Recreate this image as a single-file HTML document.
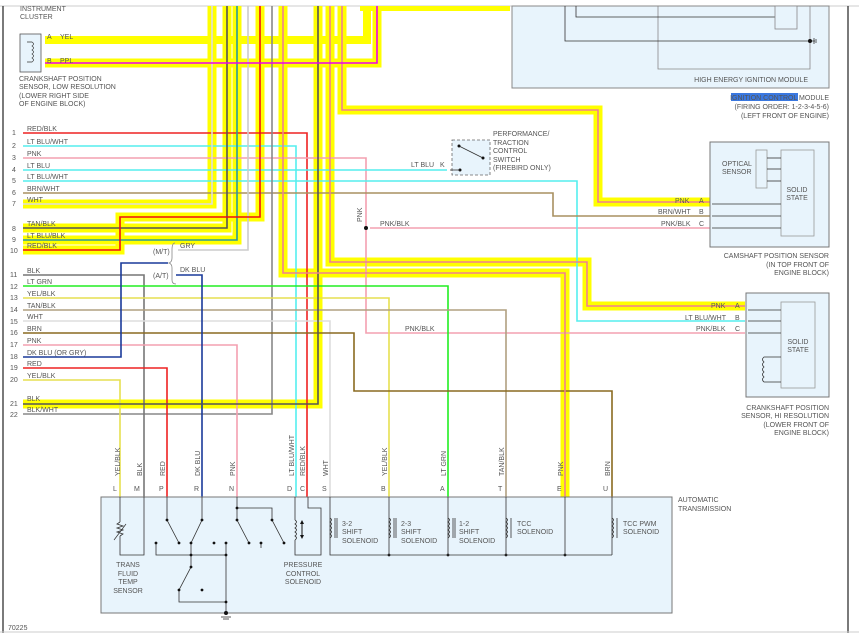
<!DOCTYPE html>
<html><head><meta charset="utf-8"><style>
html,body{margin:0;padding:0;background:#fff;}
svg{display:block;}
text{font-family:"Liberation Sans",sans-serif;font-size:7px;fill:#555;}
.hl{fill:none;stroke:#ffff00;stroke-width:9;stroke-linejoin:miter;}
.w{fill:none;stroke-width:1.6;stroke-linejoin:miter;}
.k{fill:none;stroke:#333;stroke-width:0.8;}
.g{fill:none;stroke:#888;stroke-width:0.8;}
</style></head><body>
<svg width="859" height="633" viewBox="0 0 859 633" xmlns="http://www.w3.org/2000/svg">
<rect width="859" height="633" fill="#fff"/>
<line x1="0" y1="6" x2="859" y2="6" stroke="#ccc" stroke-width="1"/>
<line x1="3" y1="6" x2="3" y2="633" stroke="#222" stroke-width="1.2"/>
<line x1="848" y1="6" x2="848" y2="633" stroke="#222" stroke-width="1.2"/>
<line x1="0" y1="632" x2="859" y2="632" stroke="#ccc" stroke-width="1"/>

<!-- HEI module -->
<rect x="512" y="6" width="317" height="82" fill="#e8f4fc" stroke="#888"/>
<polyline class="g" points="658,6 658,69 810,69 810,6"/>
<polyline class="k" points="565,6 565,41 815,41"/>
<polyline class="k" points="576,6 576,17 775,17"/>
<rect x="775" y="6" width="22" height="23" fill="#e8f4fc" stroke="#888" stroke-width="0.8"/>
<circle cx="810" cy="41" r="2" fill="#111"/>
<line x1="814" y1="38" x2="814" y2="44" stroke="#333" stroke-width="0.8"/>
<line x1="816" y1="39" x2="816" y2="43" stroke="#333" stroke-width="0.8"/>
<text x="808" y="82" text-anchor="end">HIGH ENERGY IGNITION MODULE</text>
<rect x="731" y="93" width="67" height="8" fill="#3a78e0"/>
<text x="829" y="100" text-anchor="end">IGNITION CONTROL MODULE</text>
<text x="829" y="109" text-anchor="end">(FIRING ORDER: 1-2-3-4-5-6)</text>
<text x="829" y="118" text-anchor="end">(LEFT FRONT OF ENGINE)</text>

<!-- yellow top band -->
<rect x="360" y="6" width="150" height="5" fill="#ffff00"/>

<!-- highlighted wires (yellow underlay) -->
<path class="hl" d="M23,204 H212 V6"/>
<path class="hl" d="M23,228 H227 V6"/>
<path class="hl" d="M23,240 H237 V6"/>
<path class="hl" d="M23,250 H120 V217 H260 V6"/>
<path class="hl" d="M23,404 H318 V6"/>
<path class="hl" d="M283,6 V273 H565 V497"/>
<path class="hl" d="M330,6 V262 H587 V306 H745"/>
<path class="hl" d="M342,6 V110 H598 V202 H710"/>
<path class="hl" d="M45,63 H377 V6"/>
<path d="M45,40 H367 V6" fill="none" stroke="#ffff00" stroke-width="8"/>

<!-- plain wires -->
<path class="w" stroke="#ee2222" d="M23,133 H307 V497"/>
<path class="w" stroke="#55eeee" d="M23,146 H296 V497"/>
<path class="w" stroke="#f4a0b0" d="M23,158 H366 V333 H745"/>
<path class="w" stroke="#f4a0b0" d="M370,228 H710"/>
<path class="w" stroke="#55eeee" d="M23,170 H447"/>
<path class="w" stroke="#55eeee" d="M23,181 H577 V321 H745"/>
<path class="w" stroke="#a89060" d="M23,193 H553 V216 H710"/>
<path class="w" stroke="#cccccc" d="M248,6 V250 H178"/>
<path class="w" stroke="#888" d="M272,6 V414 H23"/>
<path class="w" stroke="#777" d="M23,275 H144 V497"/>
<path class="w" stroke="#22ee22" d="M23,286 H448 V497"/>
<path class="w" stroke="#e6df50" d="M23,298 H389 V497"/>
<path class="w" stroke="#b0a080" d="M23,310 H506 V497"/>
<path class="w" stroke="#dddddd" d="M23,321 H330 V497"/>
<path class="w" stroke="#8a6a20" d="M23,333 H354 V391 H612 V497"/>
<path class="w" stroke="#f4a0b0" d="M23,345 H237 V497"/>
<path class="w" stroke="#1a3a9a" d="M23,357 H121 V263 H168"/>
<path class="w" stroke="#1a3a9a" d="M176,275 H202 V497"/>
<path class="w" stroke="#ee2222" d="M23,368 H167 V497"/>
<path class="w" stroke="#e6df50" d="M23,380 H120 V497"/>

<!-- highlighted wire cores -->
<path class="w" stroke="#dddddd" stroke-width="2" d="M23,204 H212 V6"/>
<path class="w" stroke="#555" stroke-width="2.2" d="M23,228 H227 V6"/>
<path class="w" stroke="#2a9a9a" stroke-width="2" d="M23,240 H237 V6"/>
<path class="w" stroke="#ee1111" stroke-width="2.4" d="M23,250 H120 V217 H260 V6"/>
<path class="w" stroke="#555" stroke-width="2.4" d="M23,404 H318 V6"/>
<path class="w" stroke="#f08090" stroke-width="2.4" d="M283,6 V273 H565 V497"/>
<path class="w" stroke="#f08090" stroke-width="2.4" d="M330,6 V262 H587 V306 H745"/>
<path class="w" stroke="#f08090" stroke-width="2.4" d="M342,6 V110 H598 V202 H710"/>
<path class="w" stroke="#ee00ee" stroke-width="2" d="M45,63 H377 V6"/>

<!-- brackets -->
<path d="M175,243 Q172,243 172,250 L172,258 Q172,262 169,263 Q172,264 172,268 L172,280 Q172,284 176,284" fill="none" stroke="#888" stroke-width="0.8"/>
<text x="153" y="254">(M/T)</text><text x="180" y="248">GRY</text>
<text x="153" y="278">(A/T)</text><text x="180" y="272">DK BLU</text>
<circle cx="366" cy="228" r="2" fill="#111"/>
<text transform="translate(362,222) rotate(-90)">PNK</text>
<text x="380" y="226">PNK/BLK</text>
<text x="405" y="331">PNK/BLK</text>

<!-- left labels -->
<g>
<text x="12" y="135">1</text><text x="27" y="131">RED/BLK</text>
<text x="12" y="148">2</text><text x="27" y="144">LT BLU/WHT</text>
<text x="12" y="160">3</text><text x="27" y="156">PNK</text>
<text x="12" y="172">4</text><text x="27" y="168">LT BLU</text>
<text x="12" y="183">5</text><text x="27" y="179">LT BLU/WHT</text>
<text x="12" y="195">6</text><text x="27" y="191">BRN/WHT</text>
<text x="12" y="206">7</text><text x="27" y="202">WHT</text>
<text x="12" y="231">8</text><text x="27" y="226">TAN/BLK</text>
<text x="12" y="242">9</text><text x="27" y="238">LT BLU/BLK</text>
<text x="10" y="253">10</text><text x="27" y="248">RED/BLK</text>
<text x="10" y="277">11</text><text x="27" y="273">BLK</text>
<text x="10" y="289">12</text><text x="27" y="284">LT GRN</text>
<text x="10" y="300">13</text><text x="27" y="296">YEL/BLK</text>
<text x="10" y="312">14</text><text x="27" y="308">TAN/BLK</text>
<text x="10" y="324">15</text><text x="27" y="319">WHT</text>
<text x="10" y="335">16</text><text x="27" y="331">BRN</text>
<text x="10" y="347">17</text><text x="27" y="343">PNK</text>
<text x="10" y="359">18</text><text x="27" y="355">DK BLU (OR GRY)</text>
<text x="10" y="370">19</text><text x="27" y="366">RED</text>
<text x="10" y="382">20</text><text x="27" y="378">YEL/BLK</text>
<text x="10" y="406">21</text><text x="27" y="401">BLK</text>
<text x="10" y="417">22</text><text x="27" y="412">BLK/WHT</text>
</g>

<!-- crank low res -->
<text x="20" y="11">INSTRUMENT</text><text x="20" y="19">CLUSTER</text>
<rect x="20" y="34" width="21" height="38" fill="#e8f4fc" stroke="#555" stroke-width="0.8"/>
<path d="M27,42 H32 q3,2 0,4 q3,2 0,4 q3,2 0,4 q3,2 0,4 q3,2 0,4 H27" fill="none" stroke="#333" stroke-width="0.7"/>
<text x="47" y="39">A</text><text x="60" y="39">YEL</text>
<text x="47" y="63">B</text><text x="60" y="63">PPL</text>
<text x="19" y="81">CRANKSHAFT POSITION</text>
<text x="19" y="89">SENSOR, LOW RESOLUTION</text>
<text x="19" y="98">(LOWER RIGHT SIDE</text>
<text x="19" y="106">OF ENGINE BLOCK)</text>

<!-- switch -->
<rect x="452" y="140" width="38" height="35" fill="#e8f4fc" stroke="#666" stroke-width="0.8" stroke-dasharray="3,2"/>
<line x1="459" y1="146" x2="483" y2="158" stroke="#333" stroke-width="0.8"/>
<circle cx="459" cy="146" r="1.5" fill="#111"/><circle cx="483" cy="158" r="1.5" fill="#111"/><circle cx="460" cy="170" r="1.5" fill="#111"/>
<line x1="450" y1="170" x2="460" y2="170" stroke="#333" stroke-width="0.8"/>
<text x="411" y="167">LT BLU</text><text x="440" y="167">K</text>
<text x="493" y="136">PERFORMANCE/</text><text x="493" y="145">TRACTION</text>
<text x="493" y="153">CONTROL</text><text x="493" y="162">SWITCH</text><text x="493" y="170">(FIREBIRD ONLY)</text>

<!-- camshaft sensor -->
<rect x="710" y="142" width="119" height="105" fill="#e8f4fc" stroke="#777"/>
<rect x="756" y="150" width="11" height="38" fill="#e8f4fc" stroke="#999" stroke-width="0.8"/>
<rect x="781" y="150" width="33" height="86" fill="#e8f4fc" stroke="#999" stroke-width="0.8"/>
<line class="k" x1="767" y1="158" x2="781" y2="158"/><line class="k" x1="767" y1="169" x2="781" y2="169"/><line class="k" x1="767" y1="181" x2="781" y2="181"/>
<line class="k" x1="712" y1="204" x2="781" y2="204"/><line class="k" x1="712" y1="216" x2="781" y2="216"/><line class="k" x1="712" y1="228" x2="781" y2="228"/>
<text x="722" y="166">OPTICAL</text><text x="722" y="174">SENSOR</text>
<text x="797" y="192" text-anchor="middle">SOLID</text><text x="797" y="200" text-anchor="middle">STATE</text>
<text x="675" y="203">PNK</text><text x="699" y="203">A</text>
<text x="658" y="214">BRN/WHT</text><text x="699" y="214">B</text>
<text x="661" y="226">PNK/BLK</text><text x="699" y="226">C</text>
<text x="829" y="258" text-anchor="end">CAMSHAFT POSITION SENSOR</text>
<text x="829" y="267" text-anchor="end">(IN TOP FRONT OF</text>
<text x="829" y="275" text-anchor="end">ENGINE BLOCK)</text>

<!-- crank hi res -->
<rect x="746" y="293" width="83" height="104" fill="#e8f4fc" stroke="#777"/>
<rect x="781" y="302" width="34" height="86" fill="#e8f4fc" stroke="#999" stroke-width="0.8"/>
<line class="k" x1="748" y1="310" x2="781" y2="310"/><line class="k" x1="748" y1="321" x2="781" y2="321"/><line class="k" x1="748" y1="333" x2="781" y2="333"/>
<path d="M781,357 H764 q-3,2.5 0,5 q-3,2.5 0,5 q-3,2.5 0,5 q-3,2.5 0,5 q-3,2.5 0,5 H781" fill="none" stroke="#333" stroke-width="0.8"/>
<text x="798" y="344" text-anchor="middle">SOLID</text><text x="798" y="352" text-anchor="middle">STATE</text>
<text x="711" y="308">PNK</text><text x="735" y="308">A</text>
<text x="685" y="320">LT BLU/WHT</text><text x="735" y="320">B</text>
<text x="696" y="331">PNK/BLK</text><text x="735" y="331">C</text>
<text x="829" y="410" text-anchor="end">CRANKSHAFT POSITION</text>
<text x="829" y="418" text-anchor="end">SENSOR, HI RESOLUTION</text>
<text x="829" y="427" text-anchor="end">(LOWER FRONT OF</text>
<text x="829" y="435" text-anchor="end">ENGINE BLOCK)</text>

<!-- transmission box -->
<rect x="101" y="497" width="571" height="116" fill="#e8f4fc" stroke="#777"/>
<text x="678" y="502">AUTOMATIC</text><text x="678" y="511">TRANSMISSION</text>
<g>
<text x="113" y="491">L</text><text x="134" y="491">M</text><text x="159" y="491">P</text><text x="194" y="491">R</text>
<text x="229" y="491">N</text><text x="287" y="491">D</text><text x="300" y="491">C</text><text x="322" y="491">S</text>
<text x="381" y="491">B</text><text x="440" y="491">A</text><text x="498" y="491">T</text><text x="557" y="491">E</text><text x="603" y="491">U</text>
</g>
<g>
<text transform="translate(120,476) rotate(-90)">YEL/BLK</text>
<text transform="translate(142,476) rotate(-90)">BLK</text>
<text transform="translate(165,476) rotate(-90)">RED</text>
<text transform="translate(200,476) rotate(-90)">DK BLU</text>
<text transform="translate(235,476) rotate(-90)">PNK</text>
<text transform="translate(294,476) rotate(-90)">LT BLU/WHT</text>
<text transform="translate(305,476) rotate(-90)">RED/BLK</text>
<text transform="translate(328,476) rotate(-90)">WHT</text>
<text transform="translate(387,476) rotate(-90)">YEL/BLK</text>
<text transform="translate(446,476) rotate(-90)">LT GRN</text>
<text transform="translate(504,476) rotate(-90)">TAN/BLK</text>
<text transform="translate(563,476) rotate(-90)">PNK</text>
<text transform="translate(610,476) rotate(-90)">BRN</text>
</g>
<!-- internals -->
<polyline class="k" points="120,497 120,522"/>
<path d="M120,522 l-3,2 l6,2 l-6,2 l6,2 l-6,2 l6,2 l-3,2" fill="none" stroke="#333" stroke-width="0.8"/>
<line x1="114" y1="540" x2="126" y2="524" stroke="#333" stroke-width="0.7"/>
<polyline class="k" points="120,536 120,555 144,555 144,497"/>
<polyline class="k" points="167,497 167,520 179,543"/>
<polyline class="k" points="202,497 202,520 191,543"/>
<polyline class="k" points="156,543 156,555 226,555"/>
<polyline class="k" points="191,543 191,567 179,590 179,602 226,602 226,613"/>
<polyline class="k" points="226,543 226,602"/>
<polyline class="k" points="237,497 237,520 249,543"/>
<polyline class="k" points="237,508 272,508 272,520 284,543"/>
<polyline class="k" points="261,543 261,548"/>
<g fill="#111">
<circle cx="167" cy="520" r="1.4"/><circle cx="202" cy="520" r="1.4"/><circle cx="156" cy="543" r="1.4"/><circle cx="179" cy="543" r="1.4"/>
<circle cx="191" cy="543" r="1.4"/><circle cx="214" cy="543" r="1.4"/><circle cx="226" cy="543" r="1.4"/><circle cx="191" cy="555" r="1.4"/>
<circle cx="226" cy="555" r="1.4"/><circle cx="191" cy="567" r="1.4"/><circle cx="179" cy="590" r="1.4"/><circle cx="202" cy="590" r="1.4"/>
<circle cx="226" cy="602" r="1.4"/><circle cx="226" cy="613" r="2"/>
<circle cx="237" cy="508" r="1.4"/><circle cx="237" cy="520" r="1.4"/><circle cx="272" cy="520" r="1.4"/>
<circle cx="249" cy="543" r="1.4"/><circle cx="261" cy="543" r="1.4"/><circle cx="284" cy="543" r="1.4"/>
<circle cx="389" cy="555" r="1.4"/><circle cx="448" cy="555" r="1.4"/><circle cx="506" cy="555" r="1.4"/><circle cx="565" cy="555" r="1.4"/>
</g>
<line class="k" x1="221" y1="617" x2="231" y2="617"/><line class="k" x1="223" y1="619" x2="229" y2="619"/>
<!-- pressure control -->
<polyline class="k" points="295,497 295,520"/>
<path d="M295,520 q3,2 0,4 q3,2 0,4 q3,2 0,4 q3,2 0,4 q3,2 0,4" fill="none" stroke="#333" stroke-width="0.8"/>
<polyline class="k" points="295,540 295,555 321,555 321,508 308,508 308,497"/>
<line x1="302" y1="521" x2="302" y2="538" stroke="#111" stroke-width="1"/>
<path d="M300,524 l2,-4 l2,4z M300,535 l2,4 l2,-4z" fill="#111"/>
<text x="303" y="567" text-anchor="middle">PRESSURE</text><text x="303" y="576" text-anchor="middle">CONTROL</text><text x="303" y="584" text-anchor="middle">SOLENOID</text>
<text x="128" y="567" text-anchor="middle">TRANS</text><text x="128" y="576" text-anchor="middle">FLUID</text><text x="128" y="584" text-anchor="middle">TEMP</text><text x="128" y="593" text-anchor="middle">SENSOR</text>
<!-- solenoids -->
<polyline class="k" points="330,497 330,555 612,555"/>
<polyline class="k" points="389,497 389,555"/><polyline class="k" points="448,497 448,555"/>
<polyline class="k" points="506,497 506,555"/><polyline class="k" points="565,497 565,555"/>
<polyline class="k" points="612,497 612,555"/>
<g fill="none" stroke="#333" stroke-width="0.8">
<path d="M330,518 q3,2 0,4 q3,2 0,4 q3,2 0,4 q3,2 0,4 q3,2 0,4"/><line x1="335" y1="518" x2="335" y2="538"/><line x1="337" y1="518" x2="337" y2="538"/>
<path d="M389,518 q3,2 0,4 q3,2 0,4 q3,2 0,4 q3,2 0,4 q3,2 0,4"/><line x1="394" y1="518" x2="394" y2="538"/><line x1="396" y1="518" x2="396" y2="538"/>
<path d="M448,518 q3,2 0,4 q3,2 0,4 q3,2 0,4 q3,2 0,4 q3,2 0,4"/><line x1="453" y1="518" x2="453" y2="538"/><line x1="455" y1="518" x2="455" y2="538"/>
<path d="M506,518 q3,2 0,4 q3,2 0,4 q3,2 0,4 q3,2 0,4 q3,2 0,4"/><line x1="511" y1="518" x2="511" y2="538"/>
<path d="M612,518 q3,2 0,4 q3,2 0,4 q3,2 0,4 q3,2 0,4 q3,2 0,4"/><line x1="617" y1="518" x2="617" y2="538"/>
</g>
<text x="342" y="526">3-2</text><text x="342" y="534">SHIFT</text><text x="342" y="543">SOLENOID</text>
<text x="401" y="526">2-3</text><text x="401" y="534">SHIFT</text><text x="401" y="543">SOLENOID</text>
<text x="459" y="526">1-2</text><text x="459" y="534">SHIFT</text><text x="459" y="543">SOLENOID</text>
<text x="517" y="526">TCC</text><text x="517" y="534">SOLENOID</text>
<text x="623" y="526">TCC PWM</text><text x="623" y="534">SOLENOID</text>
<text x="8" y="630">70225</text>
</svg>
</body></html>
